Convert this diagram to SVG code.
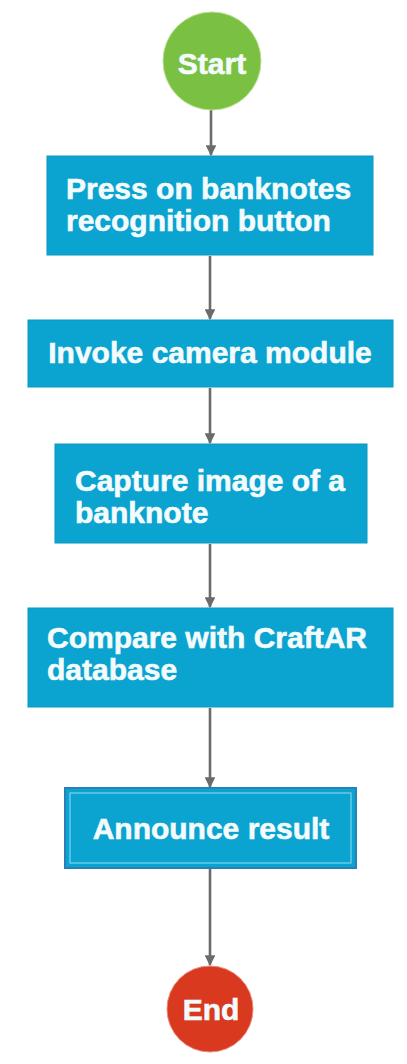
<svg xmlns="http://www.w3.org/2000/svg" width="407" height="1064" viewBox="0 0 407 1064">
  <defs>
    <marker id="arrow" viewBox="0 0 10 10" refX="9" refY="5" markerWidth="4.2" markerHeight="4.2" orient="auto" markerUnits="strokeWidth">
      <path d="M0,0 L10,5 L0,10 z" fill="#6b6b6b"/>
    </marker>
    <style>
      .step { fill: #0ba3cf; stroke: #0b98c2; stroke-width: 1; }
      .sub-outer { fill: #0ba3cf; stroke: #2a7fb8; stroke-width: 2; }
      .sub-inner { fill: none; stroke: #7fd3ee; stroke-width: 1.2; }
      .label { font-family: "Liberation Sans", Arial, sans-serif; font-weight: bold; font-size: 30px; fill: #f4fbfd; stroke: #f4fbfd; stroke-width: 0.6; }
      .mid { text-anchor: middle; }
      .edge { stroke: #6b6b6b; stroke-width: 2.6; fill: none; marker-end: url(#arrow); }
    </style>
  </defs>
  <rect width="407" height="1064" fill="#ffffff"/>

  <g id="connectors">
    <line class="edge" x1="211" y1="110" x2="211" y2="155"/>
    <line class="edge" x1="210" y1="256" x2="210" y2="319"/>
    <line class="edge" x1="210" y1="388" x2="210" y2="443"/>
    <line class="edge" x1="210" y1="544" x2="210" y2="607"/>
    <line class="edge" x1="210" y1="708" x2="210" y2="787"/>
    <line class="edge" x1="210" y1="869" x2="210" y2="965"/>
  </g>

  <g id="start">
    <circle cx="212" cy="61" r="49" fill="#7ac143" stroke="#b9df8f" stroke-width="1"/>
    <text class="label mid" x="212" y="74" font-size="28">Start</text>
  </g>

  <g id="press-button">
    <rect class="step" x="47" y="156" width="326" height="99"/>
    <text class="label" x="66" y="199">Press on banknotes</text>
    <text class="label" x="66" y="231">recognition button</text>
  </g>

  <g id="invoke-camera">
    <rect class="step" x="28" y="320" width="365" height="67"/>
    <text class="label mid" x="210" y="363">Invoke camera module</text>
  </g>

  <g id="capture-image">
    <rect class="step" x="55" y="444" width="312" height="99"/>
    <text class="label" x="75" y="491">Capture image of a</text>
    <text class="label" x="75" y="523">banknote</text>
  </g>

  <g id="compare-database">
    <rect class="step" x="28" y="608" width="365" height="99"/>
    <text class="label" x="47" y="648">Compare with CraftAR</text>
    <text class="label" x="47" y="680">database</text>
  </g>

  <g id="announce-result">
    <rect class="sub-outer" x="65" y="788" width="291" height="80"/>
    <rect class="sub-inner" x="70" y="793" width="281" height="70"/>
    <text class="label mid" x="211" y="839">Announce result</text>
  </g>

  <g id="end">
    <circle cx="210" cy="1009" r="43" fill="#d9391f" stroke="#ea8a78" stroke-width="1"/>
    <text class="label mid" x="211" y="1020">End</text>
  </g>
</svg>
